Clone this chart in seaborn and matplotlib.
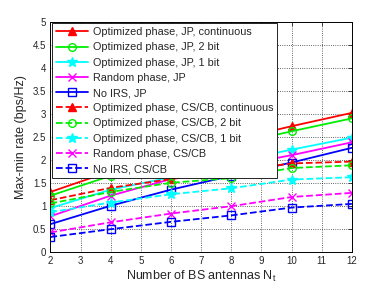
import numpy as np
import pandas as pd
import matplotlib
matplotlib.use("Agg")
import matplotlib.pyplot as plt
import seaborn as sns

# Data
n_antennas = [2, 4, 6, 8, 10, 12]

jp_opt_cont = [1.30, 1.75, 2.10, 2.42, 2.73, 3.02]
jp_opt_2bit = [1.22, 1.65, 2.00, 2.32, 2.62, 2.90]
jp_opt_1bit = [0.95, 1.35, 1.62, 1.95, 2.22, 2.48]
jp_random = [0.77, 1.22, 1.58, 1.85, 2.10, 2.38]
jp_no_irs = [0.60, 1.00, 1.35, 1.65, 1.94, 2.26]

cs_opt_cont = [1.12, 1.39, 1.58, 1.75, 1.92, 1.96]
cs_opt_2bit = [1.05, 1.30, 1.50, 1.60, 1.82, 1.88]
cs_opt_1bit = [0.86, 1.07, 1.25, 1.38, 1.57, 1.62]
cs_random = [0.42, 0.64, 0.83, 0.99, 1.19, 1.28]
cs_no_irs = [0.32, 0.49, 0.65, 0.79, 0.96, 1.04]

labels = [
    "Optimized phase, JP, continuous",
    "Optimized phase, JP, 2 bit",
    "Optimized phase, JP, 1 bit",
    "Random phase, JP",
    "No IRS, JP",
    "Optimized phase, CS/CB, continuous",
    "Optimized phase, CS/CB, 2 bit",
    "Optimized phase, CS/CB, 1 bit",
    "Random phase, CS/CB",
    "No IRS, CS/CB",
]
series = [jp_opt_cont, jp_opt_2bit, jp_opt_1bit, jp_random, jp_no_irs,
          cs_opt_cont, cs_opt_2bit, cs_opt_1bit, cs_random, cs_no_irs]

colors = ["#ff0000", "#00ee00", "#00ffff", "#ff00ff", "#0000ff"] * 2
markers = ["^", "o", "*", "x", "s"] * 2
styles = ["-"] * 5 + ["--"] * 5

sns.set_style("white")
plt.rcParams["font.family"] = ["Liberation Sans", "DejaVu Sans"]

fig, ax = plt.subplots(figsize=(3.88, 2.91), dpi=100)

for vals, lab, c, m, ls in zip(series, labels, colors, markers, styles):
    df = pd.DataFrame({"Nt": n_antennas, "rate": vals})
    filled = m in ("^", "*", "x")
    sns.lineplot(data=df, x="Nt", y="rate", ax=ax, color=c, linestyle=ls,
                 linewidth=1.3, marker=m, markersize=5.5 if m != "*" else 7,
                 markerfacecolor=c if filled else "none",
                 markeredgecolor=c, markeredgewidth=1.0, label=lab)

ax.set_xlim(2, 12)
ax.set_ylim(0, 5)
ax.set_xticks(range(2, 13))
ax.set_yticks(np.arange(0, 5.01, 0.5))
ax.set_yticklabels(["0", "0.5", "1", "1.5", "2", "2.5", "3", "3.5", "4", "4.5", "5"])
ax.tick_params(direction="in", length=3, width=0.6, labelsize=7,
               top=True, right=True, pad=3)
ax.grid(True, linestyle=":", color="black", linewidth=0.6, alpha=0.8)
for sp in ax.spines.values():
    sp.set_linewidth(0.7)
    sp.set_color("black")

ax.set_xlabel("Number of BS antennas N$_\\mathregular{t}$", fontsize=9, labelpad=2)
ax.set_ylabel("Max-min rate (bps/Hz)", fontsize=9, labelpad=4)

leg = ax.legend(loc="upper left", fontsize=7.8, frameon=True, fancybox=False,
                framealpha=1.0, borderaxespad=0.15, handlelength=3.0,
                handletextpad=0.4, labelspacing=0.48, borderpad=0.35)
leg.get_frame().set_edgecolor("black")
leg.get_frame().set_linewidth(0.6)

fig.subplots_adjust(left=0.13, right=0.907, bottom=0.135, top=0.925)
fig.savefig("out.png", dpi=100)
